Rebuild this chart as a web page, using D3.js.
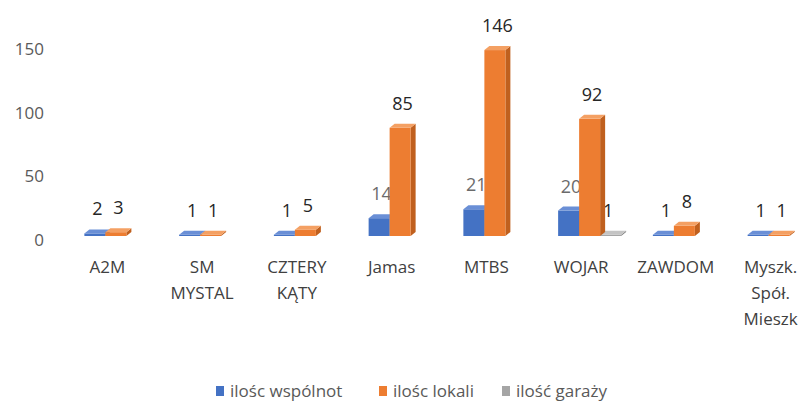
<!DOCTYPE html>
<html>
<head>
<meta charset="utf-8">
<script src="https://cdn.jsdelivr.net/npm/d3@7"></script>
<style>
  body { margin: 0; background: #fff; }
  text { font-family: "Open Sans", "Noto Sans", sans-serif; }
</style>
</head>
<body>
<svg id="chart" width="800" height="401"></svg>
<script>
// data
var categories = ["A2M", "SM MYSTAL", "CZTERY KĄTY", "Jamas", "MTBS", "WOJAR", "ZAWDOM", "Myszk. Spół. Mieszk"];
var wspolnoty = [2, 1, 1, 14, 21, 20, 1, 1];
var lokale = [3, 1, 5, 85, 146, 92, 8, 1];
var garaze = [null, null, null, null, null, 1, null, null];
var seriesNames = ["ilośc wspólnot", "ilośc lokali", "ilość garaży"];
var yTicks = [0, 50, 100, 150];

var svg = d3.select("#chart");

var series = [
  { name: seriesNames[0], values: wspolnoty, front: "#4472C4", side: "#2F5597", top: "#6A8FD6", idx: 0 },
  { name: seriesNames[1], values: lokale, front: "#ED7D31", side: "#C0601E", top: "#F4A063", idx: 1 },
  { name: seriesNames[2], values: garaze, front: "#A5A5A5", side: "#808080", top: "#C4C4C4", idx: 2 }
];

// scales
var x = d3.scaleBand()
  .domain(categories)
  .range([60, 818])
  .padding(0);

var y = d3.scaleLinear()
  .domain([0, 150])
  .range([236, 45]);

var barW = 21, dx = 5, dy = 4;

// Y axis (labels only)
var yAxis = svg.append("g")
  .attr("transform", "translate(44,4)")
  .call(d3.axisLeft(y).tickValues(yTicks).tickSize(0).tickPadding(0));
yAxis.select(".domain").remove();
yAxis.selectAll("text")
  .attr("fill", "#5a5a5a")
  .style("font-size", "17px")
  .style("font-family", "'Open Sans', sans-serif");

// draw one 3d column
function column(g, s, i) {
  var v = s.values[i];
  if (v == null) return;
  var x0 = x(categories[i]) + x.bandwidth() / 2 - 23 + s.idx * barW;
  var y0 = y(0), y1 = y(v);
  // side face
  g.append("path")
    .attr("d", "M" + (x0 + barW) + "," + y0 + "L" + (x0 + barW + dx) + "," + (y0 - dy) +
      "L" + (x0 + barW + dx) + "," + (y1 - dy) + "L" + (x0 + barW) + "," + y1 + "Z")
    .attr("fill", s.side);
  // front face
  g.append("rect")
    .attr("x", x0)
    .attr("y", y1)
    .attr("width", barW)
    .attr("height", Math.max(0.5, y0 - y1))
    .attr("fill", s.front);
  // top face
  g.append("path")
    .attr("d", "M" + x0 + "," + y1 + "L" + (x0 + dx) + "," + (y1 - dy) +
      "L" + (x0 + barW + dx) + "," + (y1 - dy) + "L" + (x0 + barW) + "," + y1 + "Z")
    .attr("fill", s.top);
  // value label
  g.append("text")
    .attr("x", x0 + (barW + dx) / 2 - (s.idx == 2 ? 5 : 0))
    .attr("y", y1 - 18)
    .attr("text-anchor", "middle")
    .attr("fill", s.idx == 0 && v > 10 ? "#6b6b6b" : "#262626")
    .style("font-size", "18px")
    .text(v);
}

var bars = svg.append("g");
categories.forEach(function (c, i) {
  var g = bars.append("g");
  // gray before orange so the orange column covers its label, like the original
  column(g, series[0], i);
  column(g, series[2], i);
  column(g, series[1], i);
});

// category labels, wrapped on spaces
var cat = svg.append("g");
categories.forEach(function (c) {
  var lines = c.split(" ");
  var t = cat.append("text")
    .attr("text-anchor", "middle")
    .attr("fill", "#404040")
    .style("font-size", "17px");
  lines.forEach(function (l, k) {
    t.append("tspan")
      .attr("x", x(c) + x.bandwidth() / 2)
      .attr("y", 273 + k * 26)
      .text(l);
  });
});

// legend
var legendX = [216, 379, 502];
var legend = svg.append("g");
series.forEach(function (s, k) {
  legend.append("rect")
    .attr("x", legendX[k])
    .attr("y", 386)
    .attr("width", 8)
    .attr("height", 10)
    .attr("fill", s.front);
  legend.append("text")
    .attr("x", legendX[k] + 14)
    .attr("y", 397)
    .attr("fill", "#595959")
    .style("font-size", "17px")
    .text(s.name);
});
</script>
</body>
</html>
